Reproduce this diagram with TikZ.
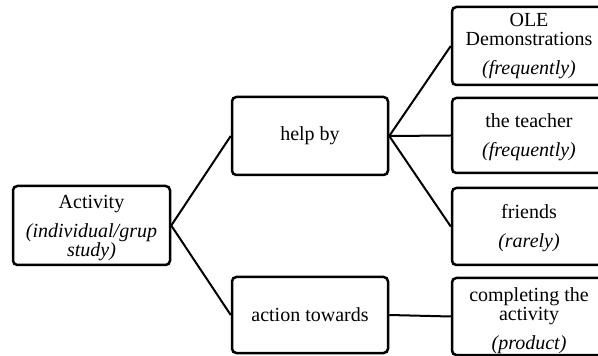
\documentclass[tikz,border=0pt]{standalone}
\usepackage{fontspec}
\setmainfont{Liberation Serif}
\begin{document}
\begin{tikzpicture}[x=0.6pt,y=-0.6pt,
  box/.style={draw=black,line width=1.5pt,rounded corners=2.6pt,align=center,
    inner sep=0pt,font=\fontsize{12}{11.7}\selectfont},
  link/.style={black,line width=1.2pt}]
\useasboundingbox (0,0) rectangle (598,356);
\clip (0,0) rectangle (598,356);
\node[box,minimum width=94.2pt,minimum height=47.4pt] (act) at (91.5,225.5)
  {\rule{0pt}{11pt}Activity\\[5.5pt]\textit{(individual/grup}\\\textit{study)}};
\node[box,minimum width=93.6pt,minimum height=46.8pt] (help) at (310,136) {help by};
\node[box,minimum width=93.6pt,minimum height=45.6pt] (act2) at (310,315) {action towards};
\node[box,minimum width=92.4pt,minimum height=46.8pt] (ole) at (529,46)
  {OLE\\Demonstrations\\[5.5pt]\textit{(frequently)}};
\node[box,minimum width=92.4pt,minimum height=45pt] (teach) at (529,135.5)
  {\rule{0pt}{10pt}the teacher\\[5.5pt]\textit{(frequently)}};
\node[box,minimum width=92.4pt,minimum height=46.2pt] (frnd) at (529,226.5)
  {\rule{0pt}{10pt}friends\\[5.5pt]\textit{(rarely)}};
\node[box,minimum width=92.4pt,minimum height=46.2pt] (prod) at (529,316.5)
  {\rule{0pt}{13pt}completing the\\activity\\[5.5pt]\textit{(product)}};
\draw[link] (act.east) -- (help.west);
\draw[link] (act.east) -- (act2.west);
\draw[link] (help.east) -- (ole.west);
\draw[link] (help.east) -- (teach.west);
\draw[link] (help.east) -- (frnd.west);
\draw[link] (act2.east) -- (prod.west);
\end{tikzpicture}
\end{document}
